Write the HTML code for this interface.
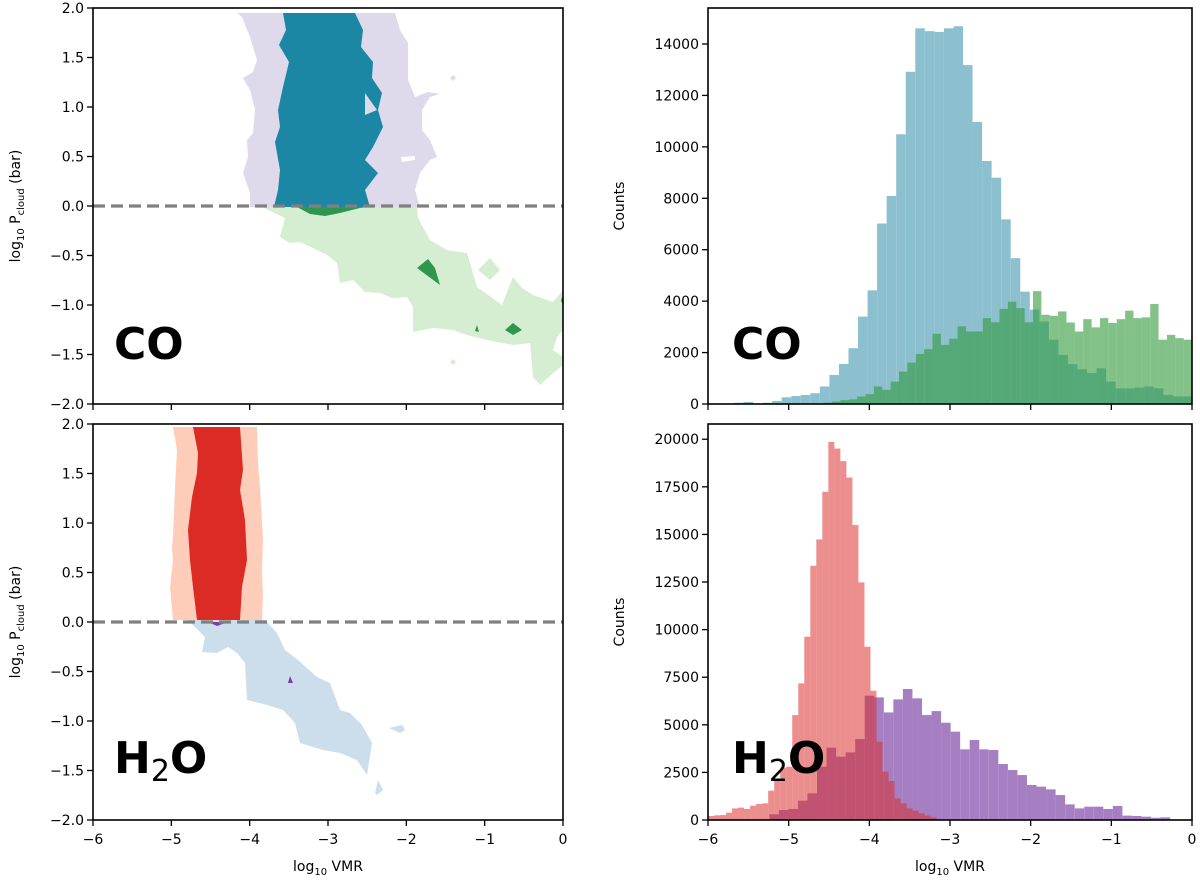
<!DOCTYPE html>
<html><head><meta charset="utf-8"><style>
body{margin:0;background:#fff;}
svg{display:block;font-family:"DejaVu Sans","Liberation Sans",sans-serif;}
</style></head><body>
<svg id="fig" width="1200" height="882" viewBox="0 0 1200 882" xmlns="http://www.w3.org/2000/svg">
<g id="contours">
 <polygon fill="#dedaec" points="237,13 242,17 250,37 257,60 253,72 243,78 250,90 255,110 253,133 247,140 248,157 243,173 250,193 250,207 420,207 415,190 420,173 430,160 437,157 430,140 422,130 422,110 430,97 440,94 428,92 415,97 408,80 408,43 400,30 395,13"/>
 <polygon fill="#1c87a4" points="283,13 286,30 279,45 289,62 283,87 278,110 280,127 275,142 280,170 278,190 274,207 370,207 365,190 378,173 365,160 373,147 383,127 378,110 382,93 372,78 373,62 361,47 363,30 355,13"/>
 <polygon fill="#dedaec" points="365,93 377,110 365,115"/>
 <polygon fill="#fff" points="401,157 415,156 415,160 402,162"/>
 <polygon fill="#dedaec" points="450,78 453,75 456,78 453,81"/>
 <polygon fill="#d5eed1" points="262,207 285,218 280,237 290,243 300,242 313,248 327,255 337,263 340,283 353,280 365,292 380,293 392,298 407,297 413,307 413,332 433,328 453,330 467,335 487,340 513,345 530,343 533,377 540,385 553,373 563,365 563,357 553,350 557,337 563,330 563,290 553,302 533,295 522,288 513,277 502,305 477,287 467,253 447,250 430,240 418,218 417,207"/>
 <polygon fill="#d5eed1" points="478,270 490,258 500,270 490,280"/>
 <polygon fill="#d5eed1" points="450,362 453,359 456,362 453,365"/>
 <polygon fill="#2e964e" points="297,207 310,214 325,216 340,213 360,208 367,207"/>
 <polygon fill="#2e964e" points="417,268 428,259 435,268 440,285"/>
 <polygon fill="#2e964e" points="505,330 513,323 522,330 513,335"/>
 <polygon fill="#2e964e" points="475,331 477,325 479,332"/>
 <polygon fill="#2e964e" points="562,297 563,297 563,305 561,301"/>

 <polygon fill="#fdcdb9" points="173,427 177,450 175,487 173,537 172,547 173,560 170,587 173,620 262,620 263,593 262,573 263,540 260,487 258,463 257,427"/>
 <polygon fill="#dc2a25" points="193,427 198,453 197,473 192,497 188,530 190,560 193,587 197,620 240,620 242,587 247,560 245,520 240,490 243,470 240,427"/>
 <polygon fill="#ccdeec" points="188,620 205,637 202,652 217,653 228,647 237,653 245,663 247,700 267,705 283,710 295,723 300,743 323,750 340,753 357,760 367,775 372,743 362,725 350,713 340,710 330,683 317,677 298,660 285,650 277,633 265,620"/>
 <polygon fill="#ccdeec" points="389,728 402,725 405,730 400,733"/>
 <polygon fill="#ccdeec" points="375,793 378,780 383,790 377,795"/>
 <polygon fill="#7b3f9e" points="208,622 228,622 217,626"/>
 <polygon fill="#7b3f9e" points="288,683 290,676 293,683"/>
</g>
<g id="plots"></g>
</svg>
<script>
// ---- CO histogram data ----
const coCloudStart = -5.678, coCloudWidth = 0.1183;
const coCloudCounts = [50,80,0,50,120,260,310,350,420,680,1130,1560,2170,3400,4420,7020,8090,10490,12920,14610,14500,14470,14610,14690,13180,10970,9450,8800,7180,5670,4370,3670,3210,2500,1910,1550,1350,1200,1390,870,610,610,640,680,610,350,290,290];
const coClearStart = -4.67, coClearWidth = 0.1038;
const coClearCounts = [20,50,100,150,180,290,380,680,550,870,1260,1610,1950,2130,2730,2300,2540,3020,2820,2820,3340,3180,3700,3980,3730,3180,4390,3470,3430,3600,3170,2820,3300,2980,3340,3150,3300,3630,3340,3370,3890,2500,2690,2560,2500];
// ---- H2O histogram data ----
const h2oCloudStart = -6.0, h2oCloudWidth = 0.0746;
const h2oCloudCounts = [210,245,260,385,610,650,580,750,840,875,1540,2100,2750,2800,5510,7175,9625,13350,14735,17240,19860,19510,18850,17990,15490,12480,9100,6790,4110,2540,2050,1140,875,610,490,350,230,140];
const h2oClearStart = -5.24, h2oClearWidth = 0.1183;
const h2oClearCounts = [300,525,580,1015,1400,2800,3800,3325,3550,4250,6530,6440,5650,6335,6880,6390,5510,5720,5110,4640,3710,4200,3710,3675,2940,2625,2360,1840,1750,1610,1310,820,610,700,700,580,735,230,210,175,120,140];
// ---- ticks ----
const vmrTicks = [-6,-5,-4,-3,-2,-1,0];
const pTicks = [-2.0,-1.5,-1.0,-0.5,0.0,0.5,1.0,1.5,2.0];
const coCountTicks = [0,2000,4000,6000,8000,10000,12000,14000];
const h2oCountTicks = [0,2500,5000,7500,10000,12500,15000,17500,20000];

const NS = "http://www.w3.org/2000/svg";
const root = document.getElementById('plots');
function mk(tag, attrs, parent){const e=document.createElementNS(NS,tag);for(const k in attrs)e.setAttribute(k,attrs[k]);(parent||root).appendChild(e);return e;}
function txt(s, attrs, parent){const e=mk('text',attrs,parent);e.textContent=s;return e;}

function panel(x0,x1,y0,y1,xmin,xmax,ymin,ymax){
  return {x:v=>x0+(v-xmin)/(xmax-xmin)*(x1-x0), y:v=>y1-(v-ymin)/(ymax-ymin)*(y1-y0), x0,x1,y0,y1};
}
const L1 = panel(93,563,8,404,-6,0,-2,2);
const L2 = panel(93,563,424,820,-6,0,-2,2);
const R1 = panel(708,1192,8,404,-6,0,0,15400);
const R2 = panel(708,1192,424,820,-6,0,0,20800);

function hist(P, start, w, counts, fill, opacity, name){
  const g = mk('g',{});
  
  
  counts.forEach((c,i)=>{
    if(c<=0) return;
    const xa=P.x(start+i*w), xb=P.x(start+(i+1)*w);
    const r = mk('rect',{x:xa,y:P.y(c),width:Math.max(0,xb-xa),height:P.y(0)-P.y(c),fill:fill,'fill-opacity':opacity},g);
    
    
  });
}
hist(R1, coCloudStart, coCloudWidth, coCloudCounts, '#8cc0cf', 1, 'co-cloudy-histogram');
hist(R1, coClearStart, coClearWidth, coClearCounts, '#2f9a3a', 0.6, 'co-clear-histogram');
hist(R2, h2oClearStart, h2oClearWidth, h2oClearCounts, '#a57fc2', 1, 'h2o-clear-histogram');
hist(R2, h2oCloudStart, h2oCloudWidth, h2oCloudCounts, '#db2a28', 0.53, 'h2o-cloudy-histogram');

function dash(P,name){
  const l = mk('line',{x1:P.x0,x2:P.x1,y1:P.y(0),y2:P.y(0),stroke:'#808080','stroke-width':3.2,'stroke-dasharray':'12,6'});
  
  
}
dash(L1,'co-cloud-top-line'); dash(L2,'h2o-cloud-top-line');

function axes(P, yt, fmt, xlabels, name){
  const g = mk('g',{});
  
  
  mk('rect',{x:P.x0,y:P.y0,width:P.x1-P.x0,height:P.y1-P.y0,fill:'none',stroke:'#000','stroke-width':1.6},g);
  vmrTicks.forEach(v=>{
    const x=P.x(v);
    mk('line',{x1:x,x2:x,y1:P.y1,y2:P.y1+6,stroke:'#000','stroke-width':1.3},g);
    if(xlabels){const t=txt(v===0?'0':'\u2212'+Math.abs(v),{x:x,y:P.y1+24,'font-size':14,'text-anchor':'middle'},g);
      
      }
  });
  yt.forEach(v=>{
    const y=P.y(v);
    mk('line',{x1:P.x0-6,x2:P.x0,y1:y,y2:y,stroke:'#000','stroke-width':1.3},g);
    const s=fmt(v);
    const t=txt(s,{x:P.x0-9,y:y+5,'font-size':14,'text-anchor':'end'},g);
    
    
  });
}
const pf = v=> (v<0?'\u2212':'')+Math.abs(v).toFixed(1);
const cf = v=> String(v);
axes(L1,pTicks,pf,false,'co-contour-axes');
axes(L2,pTicks,pf,true,'h2o-contour-axes');
axes(R1,coCountTicks,cf,false,'co-histogram-axes');
axes(R2,h2oCountTicks,cf,true,'h2o-histogram-axes');

function ylab(x,y,name){
  const t=mk('text',{x:0,y:0,'font-size':14,'text-anchor':'middle',transform:`translate(${x},${y}) rotate(-90)`});
  t.innerHTML='log<tspan font-size="10" dy="4">10</tspan><tspan dy="-4"> P</tspan><tspan font-size="10" dy="4">cloud</tspan><tspan dy="-4"> (bar)</tspan>';
  
  
}
ylab(20,206,'co-y-axis-title'); ylab(20,622,'h2o-y-axis-title');
function cl(x,y,name){const t=txt('Counts',{x:0,y:0,'font-size':14,'text-anchor':'middle',transform:`translate(${x},${y}) rotate(-90)`});
  
  }
cl(624,206,'co-counts-title'); cl(624,622,'h2o-counts-title');
function xl(x,name){const t=mk('text',{x:x,y:871,'font-size':14,'text-anchor':'middle'});
  t.innerHTML='log<tspan font-size="10" dy="4">10</tspan><tspan dy="-4"> VMR</tspan>';
  
  }
xl(328,'left-x-axis-title'); xl(950,'right-x-axis-title');
function big(x,y,html,name){const t=mk('text',{x:x,y:y,'font-size':44,'font-weight':'bold'});t.innerHTML=html;
  
  }
big(114,359,'CO','co-label-left'); big(732,359,'CO','co-label-right');
big(114,773,'H<tspan font-size="30" font-weight="normal" dy="8">2</tspan><tspan dy="-8">O</tspan>','h2o-label-left');
big(732,773,'H<tspan font-size="30" font-weight="normal" dy="8">2</tspan><tspan dy="-8">O</tspan>','h2o-label-right');
</script>
</body></html>
